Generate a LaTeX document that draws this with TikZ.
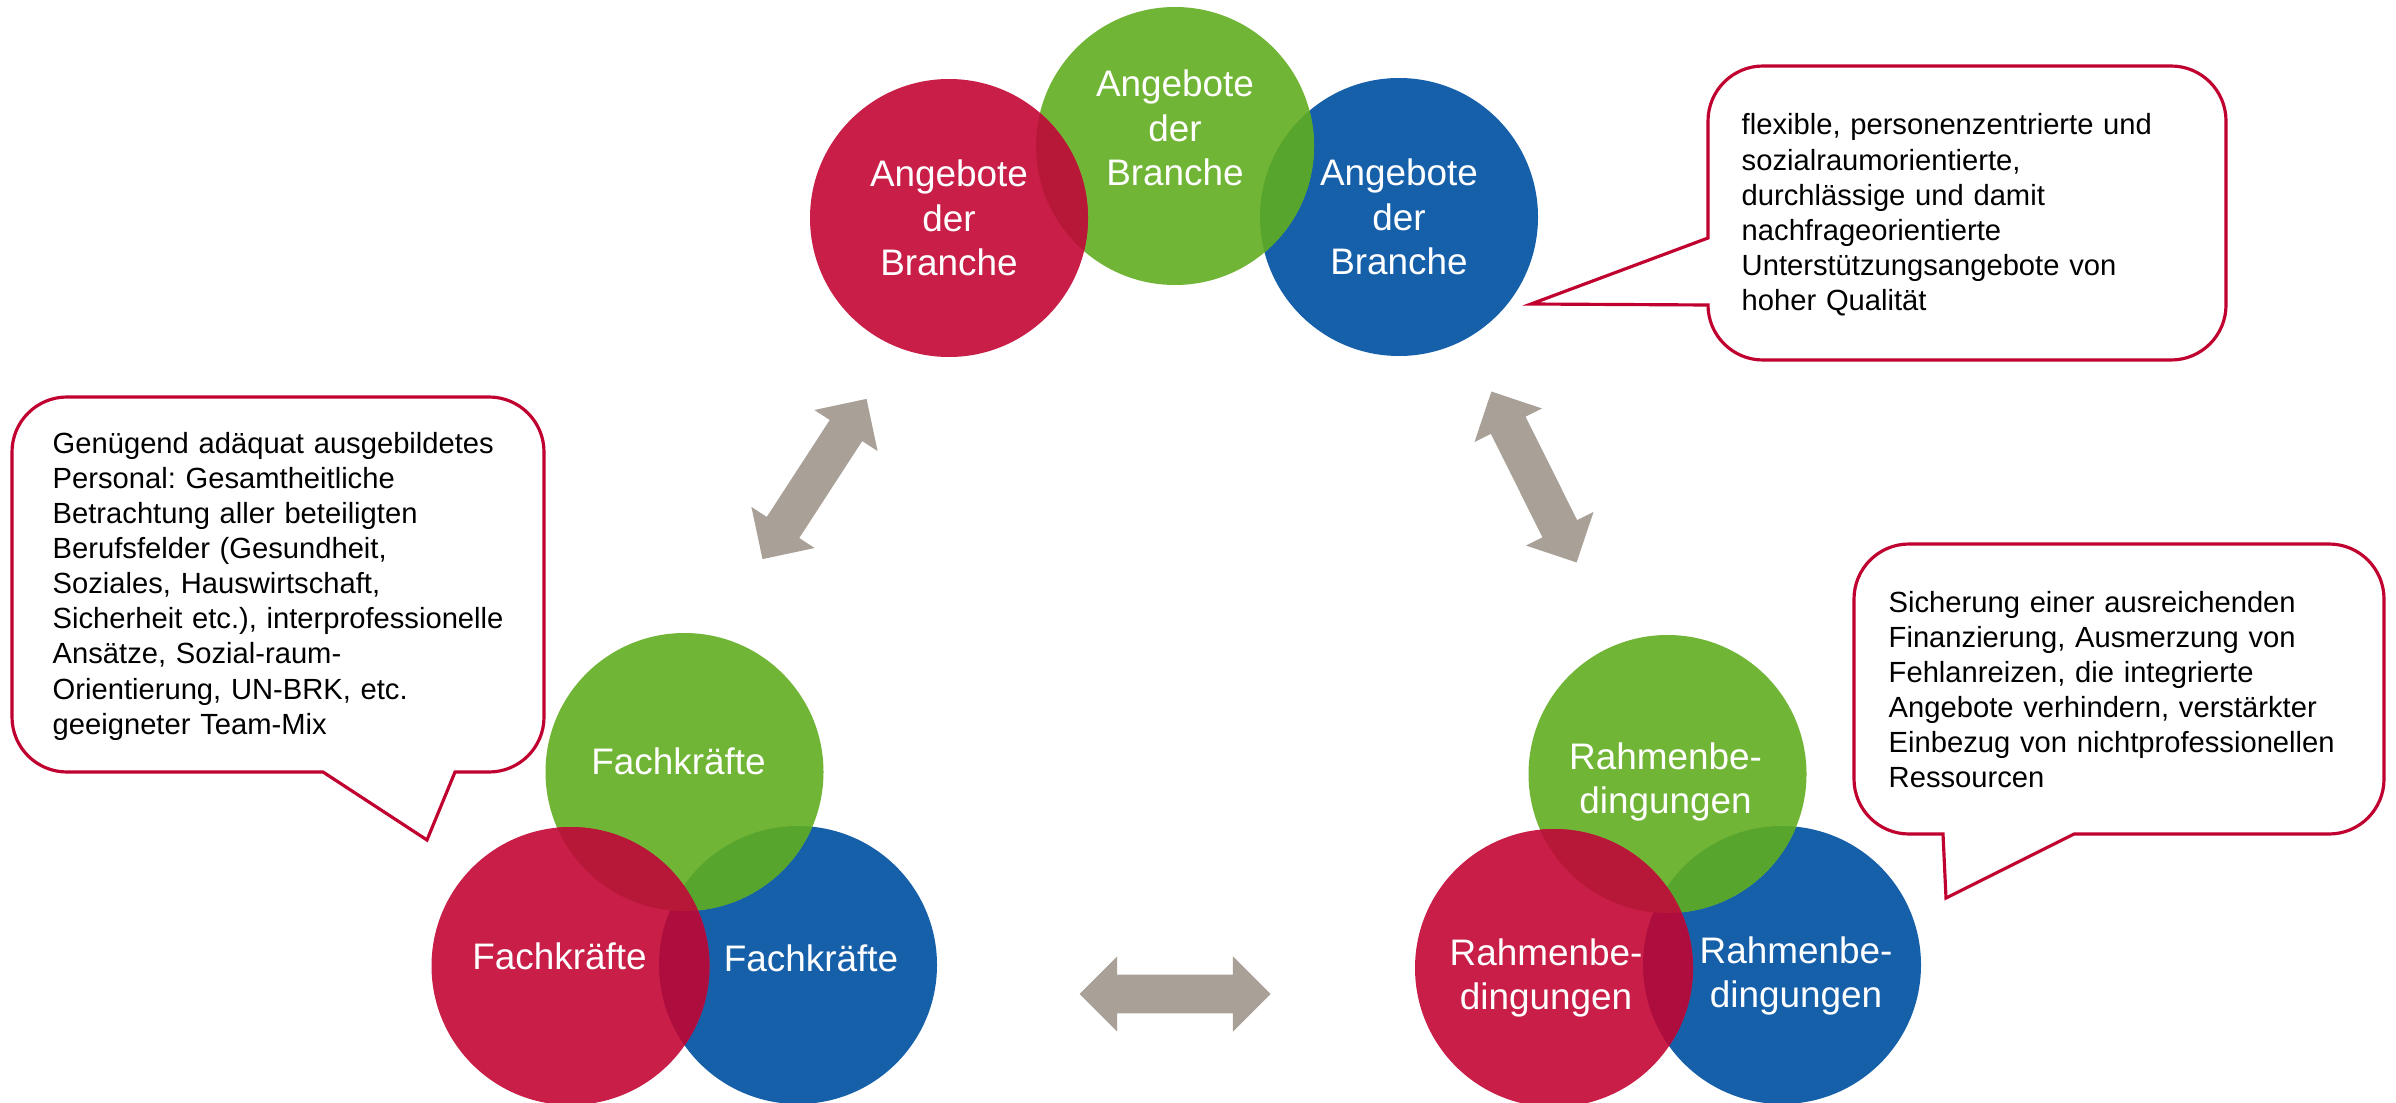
\documentclass[tikz,border=0pt]{standalone}
\usepackage{fontspec}
\setmainfont{Liberation Sans}
\usepackage{tikz}
\usetikzlibrary{positioning}
\usetikzlibrary{shapes.arrows}
\frenchspacing
\definecolor{vennred}{HTML}{C81E48}
\definecolor{venngreen}{HTML}{71B537}
\definecolor{vennblue}{HTML}{1660AA}
\definecolor{redgreen}{HTML}{B81837}
\definecolor{greenblue}{HTML}{58A52D}
\definecolor{redblue}{HTML}{AE0E3E}
\definecolor{notered}{HTML}{C0002F}
\definecolor{arrowgray}{HTML}{A9A097}
\tikzset {
  % coloured discs of the three groups
  disc/.style = {circle, minimum size=2.78cm, inner sep=0pt, outer sep=0pt},
  % white words on the discs
  disctext/.style = {white, align=center, inner sep=0pt, font=\fontsize{10.5}{12.6}\selectfont},
  % speech bubbles and the text in them
  bubble/.style = {draw=notered, line width=0.9pt, fill=white},
  note/.style = {anchor=base west, align=left, inner sep=0pt, text width=#1, font=\fontsize{8.3}{10}\selectfont},
  % grey block arrows between the groups
  link/.style = {double arrow, fill=arrowgray, minimum height=1.91cm, inner xsep=0pt, inner ysep=0.1865cm,
    double arrow head extend=0.1835cm, double arrow tip angle=90},
}
% darker lens where disc #1 and disc #2 overlap
\newcommand{\lensfill}[3]{%
  \begin{scope}
    \clip (#1.center) circle (1.39);
    \fill[#3] (#2.center) circle (1.39);
  \end{scope}}

\begin{document}
\begin{tikzpicture}
  \useasboundingbox (0,0) rectangle (23.96,-11.03);
  \fill[white] (0,0) rectangle (23.96,-11.03);

  % Angebote der Branche
  \node[disc, fill=vennblue] (angB) at (13.99,-2.17) {};
  \node[disc, fill=venngreen] (angG) at (11.75,-1.46) {};
  \node[disc, fill=vennred] (angR) at (9.49,-2.18) {};
  \lensfill{angG}{angB}{greenblue}
  \lensfill{angR}{angG}{redgreen}

  % Fachkraefte
  \node[disc, fill=vennblue] (facB) at (7.98,-9.65) {};
  \node[disc, fill=venngreen] (facG) at (6.845,-7.72) {};
  \node[disc, fill=vennred] (facR) at (5.705,-9.66) {};
  \lensfill{facG}{facB}{greenblue}
  \lensfill{facR}{facB}{redblue}
  \lensfill{facR}{facG}{redgreen}

  % Rahmenbedingungen
  \node[disc, fill=vennblue] (rahB) at (17.82,-9.65) {};
  \node[disc, fill=venngreen] (rahG) at (16.675,-7.74) {};
  \node[disc, fill=vennred] (rahR) at (15.54,-9.68) {};
  \lensfill{rahG}{rahB}{greenblue}
  \lensfill{rahR}{rahB}{redblue}
  \lensfill{rahR}{rahG}{redgreen}

  \node[disctext] (angRt) at (angR.center) {Angebote\\der\\Branche};
  \node[disctext] (angGt) at (angG.center) [yshift=0.18cm] {Angebote\\der\\Branche};
  \node[disctext] (angBt) at (angB.center) {Angebote\\der\\Branche};
  \node[disctext] (facRt) at (facR.center) [xshift=-0.11cm, yshift=0.1cm] {Fachkräfte};
  \node[disctext] (facGt) at (facG.center) [xshift=-0.06cm, yshift=0.11cm] {Fachkräfte};
  \node[disctext] (facBt) at (facB.center) [xshift=0.13cm, yshift=0.07cm] {Fachkräfte};
  \node[disctext] (rahRt) at (rahR.center) [xshift=-0.08cm, yshift=-0.1cm] {Rahmenbe-\\dingungen};
  \node[disctext] (rahGt) at (rahG.center) [xshift=-0.02cm, yshift=-0.08cm] {Rahmenbe-\\dingungen};
  \node[disctext] (rahBt) at (rahB.center) [xshift=0.14cm, yshift=-0.11cm] {Rahmenbe-\\dingungen};

  % block arrows
  \node[link, rotate=57] (arrL) at (8.145,-4.79) {};
  \node[link, rotate=116.5] (arrR) at (15.34,-4.77) {};
  \node[link] (arrB) at (11.75,-9.94) {};

  % bubble over the Fachkraefte
  \draw[bubble] (4.55,-7.72) -- (4.89,-7.72) arc[start angle=-90, end angle=0, radius=0.55]
    -- (5.44,-4.52) arc[start angle=0, end angle=90, radius=0.55]
    -- (0.67,-3.97) arc[start angle=90, end angle=180, radius=0.55]
    -- (0.12,-7.17) arc[start angle=180, end angle=270, radius=0.55]
    -- (3.23,-7.72) -- (4.27,-8.40) -- cycle;
  \node[note=4.8cm] (persText) at (0.52,-4.53) {Genügend adäquat ausgebildetes\\
    Personal: Gesamtheitliche\\
    Betrachtung aller beteiligten\\
    Berufsfelder (Gesundheit,\\
    Soziales, Hauswirtschaft,\\
    Sicherheit etc.), interprofessionelle\\
    Ansätze, Sozial-raum-\\
    Orientierung, UN-BRK, etc.\\
    geeigneter Team-Mix};

  % bubble beside the Angebote
  \draw[bubble] (17.08,-2.38) -- (17.08,-1.21) arc[start angle=180, end angle=90, radius=0.55]
    -- (21.71,-0.66) arc[start angle=90, end angle=0, radius=0.55]
    -- (22.26,-3.05) arc[start angle=0, end angle=-90, radius=0.55]
    -- (17.63,-3.60) arc[start angle=270, end angle=180, radius=0.55]
    -- (15.31,-3.04) -- cycle;
  \node[note=4.6cm] (offerText) at (17.41,-1.35) {flexible, personenzentrierte und\\
    sozialraumorientierte,\\
    durchlässige und damit\\
    nachfrageorientierte\\
    Unterstützungsangebote von\\
    hoher Qualität};

  % bubble over the Rahmenbedingungen
  \draw[bubble] (20.74,-8.34) -- (23.29,-8.34) arc[start angle=-90, end angle=0, radius=0.55]
    -- (23.84,-5.99) arc[start angle=0, end angle=90, radius=0.55]
    -- (19.09,-5.44) arc[start angle=90, end angle=180, radius=0.55]
    -- (18.54,-7.79) arc[start angle=180, end angle=270, radius=0.55]
    -- (19.43,-8.34) -- (19.46,-8.98) -- cycle;
  \node[note=4.8cm] (frameText) at (18.88,-6.12) {Sicherung einer ausreichenden\\
    Finanzierung, Ausmerzung von\\
    Fehlanreizen, die integrierte\\
    Angebote verhindern, verstärkter\\
    Einbezug von nichtprofessionellen\\
    Ressourcen};
\end{tikzpicture}
\end{document}
